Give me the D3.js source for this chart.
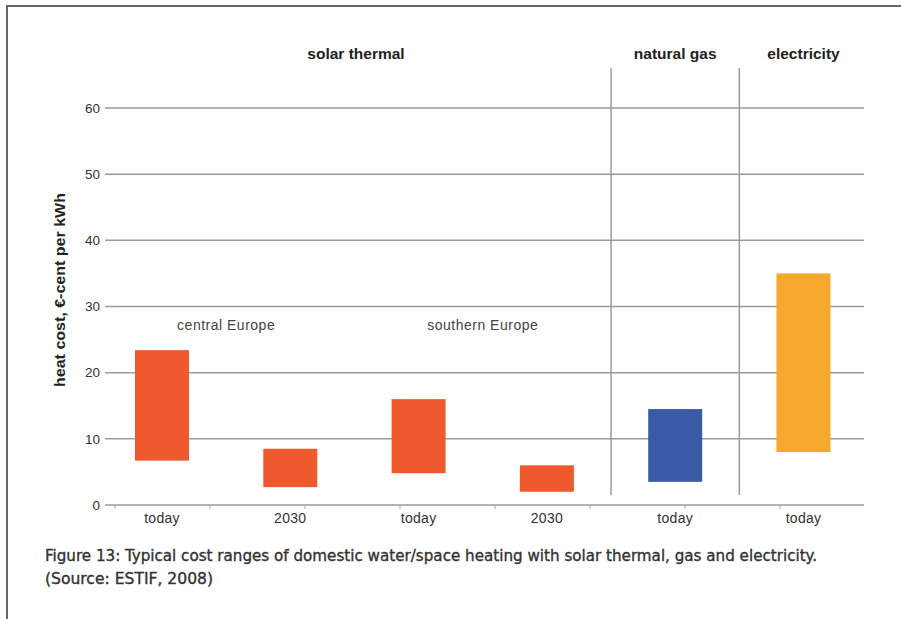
<!DOCTYPE html>
<html>
<head>
<meta charset="utf-8">
<script src="https://cdn.jsdelivr.net/npm/d3@7"></script>
<style>
  body { margin: 0; background: #fff; }
  svg { display: block; font-family: "Liberation Sans", Arial, sans-serif; }
</style>
</head>
<body>
<div id="chart"></div>
<script>
// categories and cost ranges (heat cost, €-cent per kWh)
const categories = ["today", "2030", "today", "2030", "today", "today"];
const lowValues = [6.7, 2.7, 4.8, 2.0, 3.5, 8.0];
const highValues = [23.4, 8.5, 16.0, 6.0, 14.5, 35.0];
const barColors = ["#ee5a2e", "#ee5a2e", "#ee5a2e", "#ee5a2e", "#3a5aa6", "#f5a82b"];
const yTicks = [0, 10, 20, 30, 40, 50, 60];

// group headers: label and index range of categories
const groups = [
  { name: "solar thermal", from: 0, to: 3 },
  { name: "natural gas", from: 4, to: 4 },
  { name: "electricity", from: 5, to: 5 }
];
const regionNotes = [
  { name: "central Europe", from: 0, to: 1 },
  { name: "southern Europe", from: 2, to: 3 }
];

const width = 901, height = 619;

const svg = d3.select("#chart").append("svg")
  .attr("width", width)
  .attr("height", height);

// frame (top and left edge)
svg.append("path")
  .attr("d", `M7,${height} V6 H${width}`)
  .attr("fill", "none")
  .attr("stroke", "#666")
  .attr("stroke-width", 2);

const y = d3.scaleLinear().domain([0, 60]).range([505, 108]);
const x = d3.scalePoint().domain(d3.range(categories.length)).range([162, 803.5]);
const barW = 54;
const step = x.step();

const gridLeft = 105, gridRight = 864;

// gridlines
svg.append("g")
  .selectAll("line")
  .data(yTicks)
  .join("line")
  .attr("x1", gridLeft)
  .attr("x2", gridRight)
  .attr("y1", d => y(d))
  .attr("y2", d => y(d))
  .attr("stroke", "#9a9a9a")
  .attr("stroke-width", 1.5);

// y tick labels
svg.append("g")
  .selectAll("text")
  .data(yTicks)
  .join("text")
  .attr("x", 100)
  .attr("y", d => y(d))
  .attr("dy", "0.35em")
  .attr("text-anchor", "end")
  .attr("font-size", 13.5)
  .attr("fill", "#333")
  .text(d => d);

// small ticks under the baseline
const minor = d3.scaleLinear().domain([0, 8]).range([115, 875]);
svg.append("g")
  .selectAll("line")
  .data(d3.range(0, 8))
  .join("line")
  .attr("x1", d => minor(d))
  .attr("x2", d => minor(d))
  .attr("y1", y(0))
  .attr("y2", y(0) + 4)
  .attr("stroke", "#aaa")
  .attr("stroke-width", 1);

// separators between groups
const sepIdx = groups.slice(1).map(g => g.from);
svg.append("g")
  .selectAll("line")
  .data(sepIdx)
  .join("line")
  .attr("x1", d => x(d) - step / 2)
  .attr("x2", d => x(d) - step / 2)
  .attr("y1", 68)
  .attr("y2", 495)
  .attr("stroke", "#9a9a9a")
  .attr("stroke-width", 1.5);

// bars (ranges)
svg.append("g")
  .selectAll("rect")
  .data(categories.map((c, i) => i))
  .join("rect")
  .attr("x", i => x(i) - barW / 2)
  .attr("width", barW)
  .attr("y", i => y(highValues[i]))
  .attr("height", i => y(lowValues[i]) - y(highValues[i]))
  .attr("fill", i => barColors[i]);

// category labels
svg.append("g")
  .selectAll("text")
  .data(categories)
  .join("text")
  .attr("x", (d, i) => x(i))
  .attr("y", 518)
  .attr("dy", "0.35em")
  .attr("text-anchor", "middle")
  .attr("font-size", 14)
  .attr("letter-spacing", 0.3)
  .attr("fill", "#333")
  .text(d => d);

// group headers
svg.append("g")
  .selectAll("text")
  .data(groups)
  .join("text")
  .attr("x", g => g.from === 0 ? 356 : (x(g.from) + x(g.to)) / 2)
  .attr("y", 54)
  .attr("dy", "0.35em")
  .attr("text-anchor", "middle")
  .attr("font-size", 15.5)
  .attr("font-weight", "bold")
  .attr("fill", "#222")
  .text(g => g.name);

// region notes
svg.append("g")
  .selectAll("text")
  .data(regionNotes)
  .join("text")
  .attr("x", r => (x(r.from) + x(r.to)) / 2)
  .attr("y", 325)
  .attr("dy", "0.35em")
  .attr("text-anchor", "middle")
  .attr("font-size", 14)
  .attr("letter-spacing", 0.5)
  .attr("fill", "#444")
  .text(r => r.name);

// y axis title
svg.append("text")
  .attr("transform", "translate(60,290) rotate(-90)")
  .attr("dy", "0.35em")
  .attr("text-anchor", "middle")
  .attr("font-size", 14)
  .attr("font-weight", "bold")
  .attr("fill", "#222")
  .attr("textLength", 194)
  .attr("lengthAdjust", "spacingAndGlyphs")
  .text("heat cost, €-cent per kWh");

// caption
const caption = [
  "Figure 13: Typical cost ranges of domestic water/space heating with solar thermal, gas and electricity.",
  "(Source: ESTIF, 2008)"
];
const capFont = "'DejaVu Sans Condensed', 'DejaVu Sans', sans-serif";
svg.append("text")
  .attr("x", 45).attr("y", 561)
  .attr("font-family", capFont)
  .attr("font-size", 16)
  .attr("fill", "#333")
  .attr("stroke", "#333")
  .attr("stroke-width", 0.35)
  .attr("textLength", 772)
  .attr("lengthAdjust", "spacingAndGlyphs")
  .text(caption[0]);
svg.append("text")
  .attr("x", 45).attr("y", 584)
  .attr("font-family", capFont)
  .attr("font-size", 16)
  .attr("fill", "#333")
  .attr("stroke", "#333")
  .attr("stroke-width", 0.35)
  .attr("textLength", 168)
  .attr("lengthAdjust", "spacingAndGlyphs")
  .text(caption[1]);
</script>
</body>
</html>
